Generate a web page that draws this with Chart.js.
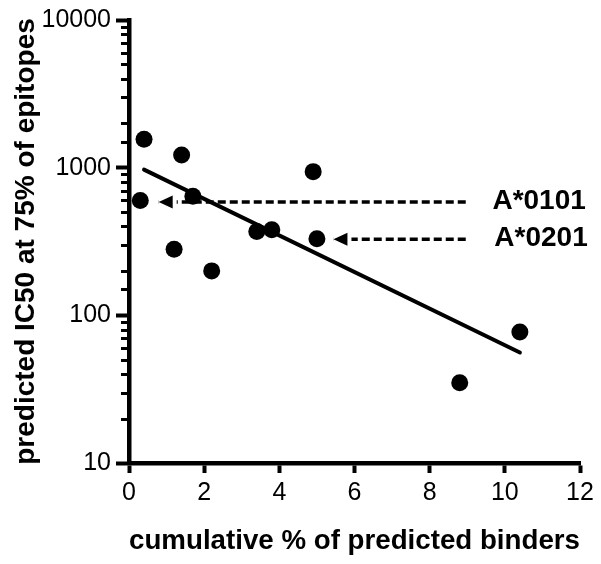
<!DOCTYPE html>
<html>
<head>
<meta charset="utf-8">
<script src="https://cdn.jsdelivr.net/npm/chart.js@4/dist/chart.umd.min.js"></script>
<style>
  html, body { margin: 0; padding: 0; background: #fff; }
  canvas { display: block; }
</style>
</head>
<body>
<canvas id="c" width="601" height="564"></canvas>
<script>
// ---- data ----
const pointsX = [0.3, 0.4, 1.2, 1.4, 1.7, 2.2, 3.4, 3.8, 4.9, 5.0, 8.8, 10.4];
const pointsY = [600, 1560, 280, 1220, 640, 200, 370, 380, 940, 330, 35, 77];
const fitX = [0.4, 10.4];
const fitY = [970, 56];
const arrowLabels = ['A*0101', 'A*0201'];
const arrowFromX = [8.96, 8.96];
const arrowToX = [0.79, 5.44];
const arrowY = [586, 327];
const labelX = [9.67, 9.72];
const xTickMin = 0, xTickMax = 12, xTickStep = 2;
const yTickLabels = [10, 100, 1000, 10000];
const xTitle = 'cumulative % of predicted binders';
const yTitle = 'predicted IC50 at 75% of epitopes';

const FONT = '"Liberation Sans", Arial, Helvetica, sans-serif';

const datasets = [
  {
    label: 'points',
    data: pointsX.map((x, i) => ({x, y: pointsY[i]})),
    pointRadius: 8.5, pointBackgroundColor: '#000', pointBorderWidth: 0,
    showLine: false
  },
  {
    label: 'fit',
    data: fitX.map((x, i) => ({x, y: fitY[i]})),
    showLine: true, pointRadius: 0, borderColor: '#000', borderWidth: 4,
    borderCapStyle: 'round'
  }
];
arrowLabels.forEach((lab, i) => {
  datasets.push({
    label: lab,
    arrow: true,
    data: [{x: arrowFromX[i], y: arrowY[i]}, {x: arrowToX[i], y: arrowY[i]}],
    showLine: true, pointRadius: 0, borderColor: '#000', borderWidth: 3.5,
    borderDash: [8, 4]
  });
});

const isMajor = v => Math.abs(Math.log10(v) - Math.round(Math.log10(v))) < 1e-9;

const extras = {
  id: 'extras',
  afterDatasetsDraw(chart) {
    const ctx = chart.ctx;
    const ys = chart.scales.y, xs = chart.scales.x;
    ctx.save();
    // arrowheads
    chart.data.datasets.forEach((ds, di) => {
      if (!ds.arrow) return;
      const meta = chart.getDatasetMeta(di);
      const tip = meta.data[meta.data.length - 1];
      ctx.fillStyle = '#fff';
      ctx.fillRect(tip.x, tip.y - 4, 18, 8);
      ctx.fillStyle = '#000';
      ctx.beginPath();
      ctx.moveTo(tip.x, tip.y);
      ctx.lineTo(tip.x + 14, tip.y - 6.5);
      ctx.lineTo(tip.x + 14, tip.y + 6.5);
      ctx.closePath();
      ctx.fill();
    });
    // labels
    ctx.fillStyle = '#000';
    ctx.font = 'bold 28px ' + FONT;
    ctx.textAlign = 'left';
    ctx.textBaseline = 'middle';
    arrowLabels.forEach((lab, i) => {
      ctx.fillText(lab, xs.getPixelForValue(labelX[i]), ys.getPixelForValue(arrowY[i]) - 1);
    });
    ctx.restore();
  },
  afterDraw(chart) {
    const ctx = chart.ctx;
    const ys = chart.scales.y;
    ctx.save();
    ctx.strokeStyle = '#000';
    ctx.lineWidth = 3;
    const right = chart.chartArea.left;
    ys.ticks.forEach(t => {
      if (isMajor(t.value)) return;
      const py = Math.round(ys.getPixelForValue(t.value)) + 0.5;
      ctx.beginPath();
      ctx.moveTo(right - 8, py);
      ctx.lineTo(right, py);
      ctx.stroke();
    });
    ctx.restore();
  }
};

new Chart(document.getElementById('c'), {
  type: 'scatter',
  data: { datasets },
  plugins: [extras],
  options: {
    responsive: false,
    animation: false,
    layout: { padding: { left: 0, right: 21, top: 16, bottom: 0 } },
    plugins: { legend: { display: false }, tooltip: { enabled: false } },
    scales: {
      x: {
        type: 'linear', min: xTickMin, max: xTickMax,
        ticks: { stepSize: xTickStep, color: '#000', font: { family: FONT, size: 25 }, padding: 5 },
        grid: { drawOnChartArea: false, tickLength: 10, tickWidth: 4, tickColor: '#000' },
        border: { width: 4.5, color: '#000' },
        title: { display: true, text: xTitle, color: '#000',
                 font: { family: FONT, size: 28, weight: 'bold' }, padding: { top: 0, bottom: 6 } },
        afterFit: s => { s.height = 101; }
      },
      y: {
        type: 'logarithmic', min: 10, max: 10000,
        ticks: {
          autoSkip: false, color: '#000', font: { family: FONT, size: 25 }, padding: 5,
          callback: v => yTickLabels.includes(v) ? String(v) : ''
        },
        grid: { drawOnChartArea: false, tickLength: 13, tickWidth: 4,
                tickColor: c => (c.tick && isMajor(c.tick.value)) ? '#000' : 'rgba(0,0,0,0)' },
        border: { width: 4.5, color: '#000' },
        title: { display: true, text: yTitle, color: '#000',
                 font: { family: FONT, size: 28, weight: 'bold' }, padding: { top: 9, bottom: 0 } },
        afterFit: s => { s.width = 129; }
      }
    }
  }
});
</script>
</body>
</html>
